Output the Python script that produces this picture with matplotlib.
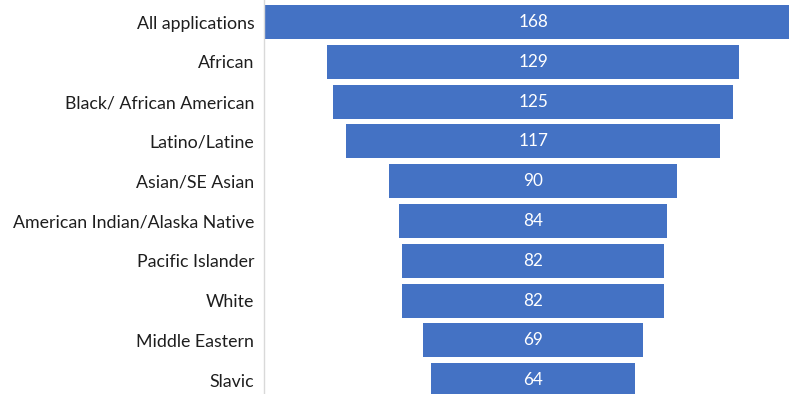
import matplotlib
matplotlib.use("Agg")
import matplotlib.pyplot as plt

categories = ["All applications", "African", "Black/ African American", "Latino/Latine",
              "Asian/SE Asian", "American Indian/Alaska Native", "Pacific Islander",
              "White", "Middle Eastern", "Slavic"]
values = [168, 129, 125, 117, 90, 84, 82, 82, 69, 64]

plt.rcParams['font.family'] = ['Lato', 'DejaVu Sans']

fig = plt.figure(figsize=(7.89, 3.94), dpi=100)
W, H = 789, 394
ax = fig.add_axes([264 / W, 0, 1 - 264 / W, 1])

ys = list(range(len(values)))
lefts = [-v / 2 for v in values]
bars = ax.barh(ys, values, left=lefts, height=0.855, color="#4472C4")
for y, v in zip(ys, values):
    ax.text(0, y, str(v), ha="center", va="center", color="white", fontsize=12.3)

ax.set_xlim(-84.1, 80)
ax.set_ylim(9.347, -0.553)
ax.set_yticks(ys)
ax.set_yticklabels(categories, fontsize=12.8, color="#1e1e1e")
ax.tick_params(axis="y", length=0, pad=7)
ax.set_xticks([])
for s in ["top", "right", "bottom"]:
    ax.spines[s].set_visible(False)
ax.spines["left"].set_color("#D9D9D9")
ax.spines["left"].set_linewidth(1)

fig.savefig("out.png", dpi=100)
